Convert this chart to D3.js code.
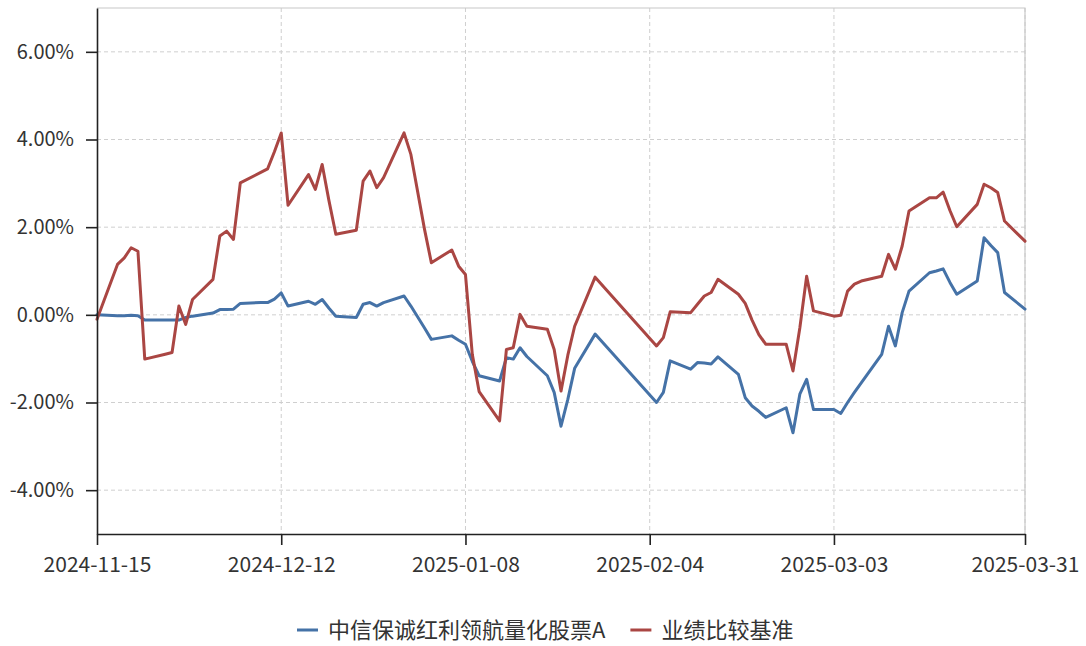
<!DOCTYPE html>
<html>
<head>
<meta charset="utf-8">
<script src="https://cdn.jsdelivr.net/npm/d3@7"></script>
<style>
  body { margin: 0; background: #fff; }
  text { font-family: "Microsoft YaHei", "Noto Sans CJK SC", sans-serif; fill: #333; }
</style>
</head>
<body>
<div id="chart"></div>
<script>
// trading days
const dates = [
  "2024-11-15","2024-11-18","2024-11-19","2024-11-20","2024-11-21","2024-11-22","2024-11-25","2024-11-26","2024-11-27","2024-11-28","2024-11-29",
  "2024-12-02","2024-12-03","2024-12-04","2024-12-05","2024-12-06","2024-12-09","2024-12-10","2024-12-11","2024-12-12","2024-12-13",
  "2024-12-16","2024-12-17","2024-12-18","2024-12-19","2024-12-20","2024-12-23","2024-12-24","2024-12-25","2024-12-26","2024-12-27","2024-12-30","2024-12-31",
  "2025-01-02","2025-01-03","2025-01-06","2025-01-07","2025-01-08","2025-01-09","2025-01-10","2025-01-13","2025-01-14","2025-01-15","2025-01-16","2025-01-17",
  "2025-01-20","2025-01-21","2025-01-22","2025-01-23","2025-01-24","2025-01-27",
  "2025-02-05","2025-02-06","2025-02-07","2025-02-10","2025-02-11","2025-02-12","2025-02-13","2025-02-14","2025-02-17","2025-02-18","2025-02-19","2025-02-20","2025-02-21",
  "2025-02-24","2025-02-25","2025-02-26","2025-02-27","2025-02-28",
  "2025-03-03","2025-03-04","2025-03-05","2025-03-06","2025-03-07","2025-03-10","2025-03-11","2025-03-12","2025-03-13","2025-03-14",
  "2025-03-17","2025-03-18","2025-03-19","2025-03-20","2025-03-21","2025-03-24","2025-03-25","2025-03-26","2025-03-27","2025-03-28","2025-03-31"
];

// 中信保诚红利领航量化股票A (%)
const fundValues = [
  0.00,-0.02,-0.02,-0.01,-0.02,-0.12,-0.12,-0.12,-0.12,-0.06,-0.03,
  0.04,0.12,0.12,0.13,0.26,0.28,0.28,0.36,0.50,0.20,
  0.31,0.24,0.35,0.15,-0.03,-0.06,0.24,0.28,0.20,0.28,0.43,0.20,
  -0.30,-0.56,-0.48,-0.58,-0.67,-1.06,-1.39,-1.51,-0.98,-1.01,-0.75,-0.95,
  -1.39,-1.77,-2.54,-1.93,-1.22,-0.44,
  -2.00,-1.77,-1.05,-1.24,-1.09,-1.10,-1.12,-0.96,-1.36,-1.89,-2.08,-2.20,-2.34,
  -2.12,-2.69,-1.81,-1.47,-2.16,
  -2.16,-2.25,-2.00,-1.77,-1.55,-0.90,-0.26,-0.71,0.05,0.54,
  0.96,1.00,1.05,0.74,0.47,0.77,1.76,1.58,1.42,0.51,0.13
];

// 业绩比较基准 (%)
const benchValues = [
  -0.10,1.15,1.30,1.53,1.45,-1.01,-0.90,-0.86,0.20,-0.22,0.35,
  0.81,1.80,1.91,1.72,3.01,3.25,3.33,3.72,4.15,2.50,
  3.20,2.86,3.43,2.60,1.84,1.93,3.05,3.28,2.90,3.13,4.15,3.66,
  1.95,1.19,1.48,1.11,0.92,-0.90,-1.75,-2.42,-0.79,-0.75,0.01,-0.26,
  -0.33,-0.79,-1.74,-0.92,-0.26,0.86,
  -0.71,-0.52,0.07,0.05,0.24,0.43,0.51,0.81,0.47,0.26,-0.12,-0.45,-0.67,
  -0.67,-1.28,-0.30,0.88,0.09,
  -0.03,-0.01,0.54,0.70,0.77,0.88,1.38,1.04,1.57,2.37,
  2.67,2.67,2.80,2.38,2.01,2.52,2.98,2.90,2.79,2.14,1.68
];

const xTicks = ["2024-11-15","2024-12-12","2025-01-08","2025-02-04","2025-03-03","2025-03-31"];
const yTicks = [-4, -2, 0, 2, 4, 6];
const seriesNames = ["中信保诚红利领航量化股票A", "业绩比较基准"];
const seriesColors = ["#4572A7", "#AA4643"];

const width = 1086, height = 646;
const margin = {top: 8, right: 61, bottom: 112, left: 97};

const parse = d3.timeParse("%Y-%m-%d");
const fmt = d3.timeFormat("%Y-%m-%d");

const svg = d3.select("#chart")
    .append("svg")
    .attr("width", width)
    .attr("height", height);

const xScale = d3.scaleTime()
    .domain([parse(xTicks[0]), parse(xTicks[xTicks.length - 1])])
    .range([margin.left, width - margin.right]);

const yScale = d3.scaleLinear()
    .domain([-5, 7])
    .range([height - margin.bottom, margin.top]);

// grid
svg.append("g")
    .selectAll("line")
    .data(yTicks)
    .join("line")
    .attr("x1", margin.left).attr("x2", width - margin.right)
    .attr("y1", d => yScale(d)).attr("y2", d => yScale(d))
    .attr("stroke", "#cfcfcf")
    .attr("stroke-dasharray", "4,3");

svg.append("g")
    .selectAll("line")
    .data(xTicks.slice(1))
    .join("line")
    .attr("x1", d => xScale(parse(d))).attr("x2", d => xScale(parse(d)))
    .attr("y1", margin.top).attr("y2", height - margin.bottom)
    .attr("stroke", "#cfcfcf")
    .attr("stroke-dasharray", "4,3");

// plot border top / right
svg.append("path")
    .attr("d", `M${margin.left},${yScale(7)}H${width - margin.right}V${height - margin.bottom}`)
    .attr("fill", "none")
    .attr("stroke", "#c8c8c8")
    .attr("stroke-width", 1.2);

// series
const lineGen = d3.line()
    .x((d, i) => xScale(parse(dates[i])))
    .y(d => yScale(d));

[fundValues, benchValues].forEach((vals, k) => {
    svg.append("path")
        .datum(vals)
        .attr("d", lineGen)
        .attr("fill", "none")
        .attr("stroke", seriesColors[k])
        .attr("stroke-width", 3)
        .attr("stroke-linejoin", "round")
        .attr("stroke-linecap", "round");
});

// axes
const yAxis = svg.append("g")
    .attr("transform", `translate(${margin.left},0)`)
    .call(d3.axisLeft(yScale)
        .tickValues(yTicks)
        .tickFormat(d => d.toFixed(2) + "%")
        .tickSize(11)
        .tickPadding(12)
        .tickSizeOuter(0));
yAxis.select(".domain").attr("stroke", "#222").attr("stroke-width", 1.6);
yAxis.selectAll(".tick line").attr("stroke", "#222").attr("stroke-width", 1.6);
yAxis.selectAll("text").attr("font-size", "20px").attr("fill", "#333");

const xAxis = svg.append("g")
    .attr("transform", `translate(0,${height - margin.bottom})`)
    .call(d3.axisBottom(xScale)
        .tickValues(xTicks.map(parse))
        .tickFormat(fmt)
        .tickSize(11)
        .tickPadding(12)
        .tickSizeOuter(0));
xAxis.select(".domain").attr("stroke", "#222").attr("stroke-width", 1.6);
xAxis.selectAll(".tick line").attr("stroke", "#222").attr("stroke-width", 1.6);
xAxis.selectAll("text").attr("font-size", "21px").attr("fill", "#333");

// legend
const legend = svg.append("g").attr("transform", "translate(297,630)");
let lx = 0;
seriesNames.forEach((name, k) => {
    legend.append("line")
        .attr("x1", lx).attr("x2", lx + 21)
        .attr("y1", 0).attr("y2", 0)
        .attr("stroke", seriesColors[k])
        .attr("stroke-width", 3);
    const t = legend.append("text")
        .attr("x", lx + 31)
        .attr("y", 0)
        .attr("dy", "0.35em")
        .attr("font-size", "22px")
        .text(name);
    lx += 31 + t.node().getComputedTextLength() + 25;
});
</script>
</body>
</html>
